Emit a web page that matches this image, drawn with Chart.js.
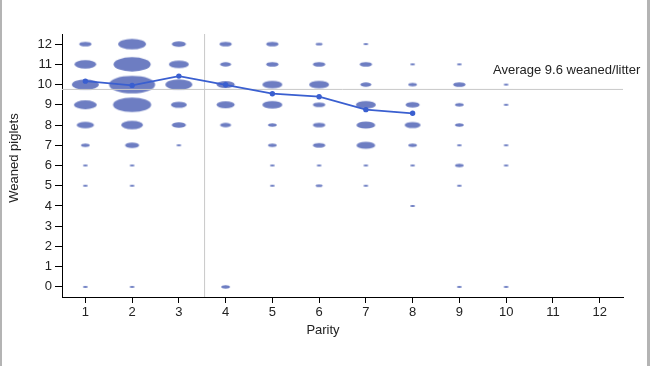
<!DOCTYPE html>
<html>
<head>
<meta charset="utf-8">
<script src="https://cdn.jsdelivr.net/npm/chart.js@4/dist/chart.umd.min.js"></script>
<style>
  body { margin: 0; background: #fff; }
  #wrap { position: relative; width: 650px; height: 366px; }
  #frame { position: absolute; left: 0; top: 0; width: 645px; height: 366px;
           border-left: 2px solid #b4b4b4; border-right: 3px solid #b4b4b4; pointer-events: none; }
</style>
</head>
<body>
<div id="wrap">
  <canvas id="mycanvas" width="650" height="366"></canvas>
  <div id="frame"></div>
</div>
<script>
// number of litters per parity, index = weaned piglets 0..12
var weanedLevels = [0,1,2,3,4,5,6,7,8,9,10,11,12];
var sowsP1  = [1,0,0,0,0,1,1,3,12,21,29,19,6];
var sowsP2  = [1,0,0,0,0,1,1,8,19,58,85,55,31];
var sowsP3  = [0,0,0,0,0,0,0,1,8,10,29,16,8];
var sowsP4  = [3,0,0,0,0,0,0,0,5,13,13,5,6];
var sowsP5  = [0,0,0,0,0,1,1,3,3,16,16,6,6];
var sowsP6  = [0,0,0,0,0,2,1,6,6,6,16,6,2];
var sowsP7  = [0,0,0,0,0,1,1,14,14,16,5,6,1];
var sowsP8  = [0,0,0,0,1,0,1,3,10,8,3,1,0];
var sowsP9  = [1,0,0,0,0,1,3,1,3,3,6,1,0];
var sowsP10 = [1,0,0,0,0,0,1,1,0,1,1,0,0];

var parities = [1,2,3,4,5,6,7,8,9,10,11,12];
var avgParity  = [1,2,3,4,5,6,7,8];
var avgWeaned  = [10.17, 9.96, 10.42, 9.99, 9.55, 9.4, 8.76, 8.58];

var herdAverageLine = 9.76;     // where the grey line sits
var herdAverageText = "Average 9.6 weaned/litter";
var firstLitterCut = 3.55;      // vertical grey line

var allSows = [sowsP1, sowsP2, sowsP3, sowsP4, sowsP5, sowsP6, sowsP7, sowsP8, sowsP9, sowsP10];

var bubbleData = [];
for (var p in allSows) {
	for (var w in weanedLevels) {
		if (allSows[p][w] > 0) {
			bubbleData.push({ x: parities[p], y: weanedLevels[w], n: allSows[p][w] });
		}
	}
}

var avgData = [];
for (var i in avgParity) {
	avgData.push({ x: avgParity[i], y: avgWeaned[i] });
}

// flat ellipses as point images
var ellipseCache = {};
function ellipseImage(n) {
	if (ellipseCache[n]) return ellipseCache[n];
	var hw = 2.5 * Math.sqrt(n);
	var hh = hw / 2.6;
	var c = document.createElement("canvas");
	c.width = Math.ceil(hw * 2) + 2;
	c.height = Math.ceil(hh * 2) + 2;
	var g = c.getContext("2d");
	g.fillStyle = "rgba(104, 121, 192, 0.97)";
	g.beginPath();
	g.ellipse(c.width / 2, c.height / 2, hw, Math.max(hh, 1), 0, 0, Math.PI * 2);
	g.fill();
	ellipseCache[n] = c;
	return c;
}

var FONT = "13px 'Liberation Sans', Arial, sans-serif";

// average label + axis titles
var textBits = {
	id: "textBits",
	afterDraw: function(chart) {
		var ctx = chart.ctx;
		var xs = chart.scales.x, ys = chart.scales.y;
		ctx.save();
		ctx.font = FONT;
		ctx.fillStyle = "#222";
		ctx.textBaseline = "middle";
		ctx.textAlign = "left";
		ctx.fillText(herdAverageText, xs.getPixelForValue(9.72), ys.getPixelForValue(10.68));
		ctx.textAlign = "center";
		ctx.fillText("Parity", 323, 330);
		ctx.translate(14, 158);
		ctx.rotate(-Math.PI / 2);
		ctx.fillText("Weaned piglets", 0, 0);
		ctx.restore();
	}
};

Chart.defaults.font.family = "'Liberation Sans', Arial, sans-serif";
Chart.defaults.font.size = 13;
Chart.defaults.color = "#222";

var ctx = document.getElementById("mycanvas");

var BubbleGraph = new Chart(ctx, {
	type: "bubble",
	data: {
		datasets: [
			{
				type: "line",
				label: "Average weaned",
				order: 0,
				data: avgData,
				borderColor: "#3a5fd0",
				backgroundColor: "#3a5fd0",
				borderWidth: 1.8,
				pointRadius: 1.8,
				tension: 0
			},
			{
				type: "line",
				label: "Herd average",
				order: 1,
				data: [{ x: 0.5, y: herdAverageLine }, { x: 12.5, y: herdAverageLine }],
				borderColor: "#c8c8c8",
				borderWidth: 1,
				pointRadius: 0
			},
			{
				type: "line",
				label: "cut",
				order: 1,
				data: [{ x: firstLitterCut, y: -0.5 }, { x: firstLitterCut, y: 12.5 }],
				borderColor: "#c8c8c8",
				borderWidth: 1,
				pointRadius: 0
			},
			{
				label: "Litters",
				order: 2,
				data: bubbleData,
				backgroundColor: "rgba(104, 121, 192, 0.97)",
				borderWidth: 0,
				radius: function(c) { return c.raw ? 2.5 * Math.sqrt(c.raw.n) : 3; },
				pointStyle: function(c) { return c.raw ? ellipseImage(c.raw.n) : "circle"; }
			}
		]
	},
	options: {
		responsive: false,
		animation: false,
		layout: { padding: { left: 0, right: 27, top: 34, bottom: 43 } },
		plugins: {
			legend: { display: false },
			tooltip: { enabled: false }
		},
		scales: {
			x: {
				type: "linear",
				min: 0.5,
				max: 12.5,
				afterFit: function(s) { s.height = 26; },
				afterBuildTicks: function(s) {
					s.ticks = parities.map(function(v) { return { value: v }; });
				},
				ticks: { padding: 2, color: "#222" },
				grid: { drawOnChartArea: false, drawTicks: true, tickLength: 6, color: "#000" },
				border: { color: "#000", width: 1 }
			},
			y: {
				type: "linear",
				min: -0.5,
				max: 12.5,
				afterFit: function(s) { s.width = 62; },
				afterBuildTicks: function(s) {
					s.ticks = weanedLevels.map(function(v) { return { value: v }; });
				},
				ticks: { padding: 3, color: "#222" },
				grid: { drawOnChartArea: false, drawTicks: true, tickLength: 7, color: "#000" },
				border: { color: "#000", width: 1 }
			}
		}
	},
	plugins: [textBits]
});
</script>
</body>
</html>
